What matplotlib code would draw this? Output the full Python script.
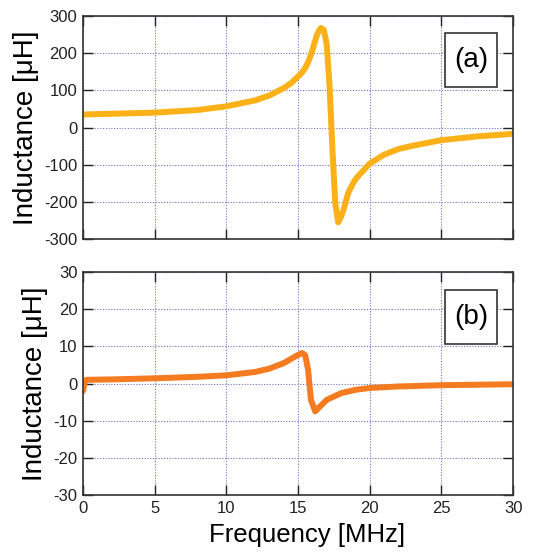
import numpy as np
import matplotlib.pyplot as plt
from matplotlib.patches import Rectangle

plt.rcParams['font.family'] = ['Liberation Sans', 'DejaVu Sans']
plt.rcParams['axes.unicode_minus'] = False

# (a)
freq_a = [0, 2, 5, 8, 10, 12, 13, 14, 14.5, 15, 15.25, 15.5, 15.75, 16, 16.15, 16.3, 16.45,
          16.6, 16.8, 17.0, 17.2, 17.4, 17.6, 17.8, 18.0, 18.2, 18.5, 18.8, 19, 19.25,
          19.5, 20, 21, 22, 23, 25, 27.5, 30]
ind_a = [35, 37, 40, 47, 57, 73, 86, 106, 119, 137, 147, 160, 180, 207, 228, 247, 260,
         268, 262, 225, 110, -60, -205, -255, -240, -218, -176, -153, -140, -128,
         -118, -97, -73, -58, -49, -34, -24, -17]

# (b)
freq_b = [0, 0.15, 0.3, 2, 5, 8, 10, 12, 13, 14, 14.5, 15, 15.3, 15.5, 15.7, 15.9,
          16.2, 16.5, 17, 18, 19, 20, 22, 25, 30]
ind_b = [-2, 0.8, 1.0, 1.1, 1.4, 1.8, 2.2, 3.1, 4.0, 5.5, 6.6, 7.7, 8.2, 7.6, 3.7,
         -4.4, -7.5, -6.3, -4.4, -2.6, -1.7, -1.2, -0.8, -0.45, -0.2]

fig = plt.figure(figsize=(5.41, 5.54), dpi=100)
ax1 = fig.add_axes([0.1534, 0.5686, 0.795, 0.4025])
ax2 = fig.add_axes([0.1534, 0.1065, 0.795, 0.4025])

ax1.plot(freq_a, ind_a, color='#FBB117', lw=4.3, solid_joinstyle='round', solid_capstyle='round')
ax2.plot(freq_b, ind_b, color='#F47B20', lw=4.3, solid_joinstyle='round', solid_capstyle='round')

for ax, lim, step, tag, yb in [(ax1, 300, 100, '(a)', 0.682), (ax2, 30, 10, '(b)', 0.677)]:
    ax.set_xlim(0, 30)
    ax.set_ylim(-lim, lim)
    ax.set_xticks(np.arange(0, 31, 5))
    ax.set_yticks(np.arange(-lim, lim + 1, step))
    ax.grid(True, color='#7070c8', linestyle=(0, (1, 1.5)), lw=0.8)
    ax.tick_params(direction='in', length=7, width=1, top=True, right=True,
                   labelsize=12, colors='#222222', pad=4)
    for s in ax.spines.values():
        s.set_color('#333333')
        s.set_linewidth(1.2)
    ax.set_ylabel('Inductance [\u03bcH]', fontsize=20, labelpad=4)
    ax.add_patch(Rectangle((0.842, yb), 0.121, 0.242, transform=ax.transAxes,
                           fc='white', ec='#333333', lw=1.2, zorder=5))
    ax.text(0.9025, yb + 0.121, tag, transform=ax.transAxes, fontsize=20,
            ha='center', va='center', zorder=6)

ax1.tick_params(labelbottom=False)
ax2.set_xlabel('Frequency [MHz]', fontsize=18.5)
ax2.xaxis.set_label_coords(0.52, -0.125)
ax2.xaxis.label.set_va('top')

fig.savefig('out.png', dpi=100)
